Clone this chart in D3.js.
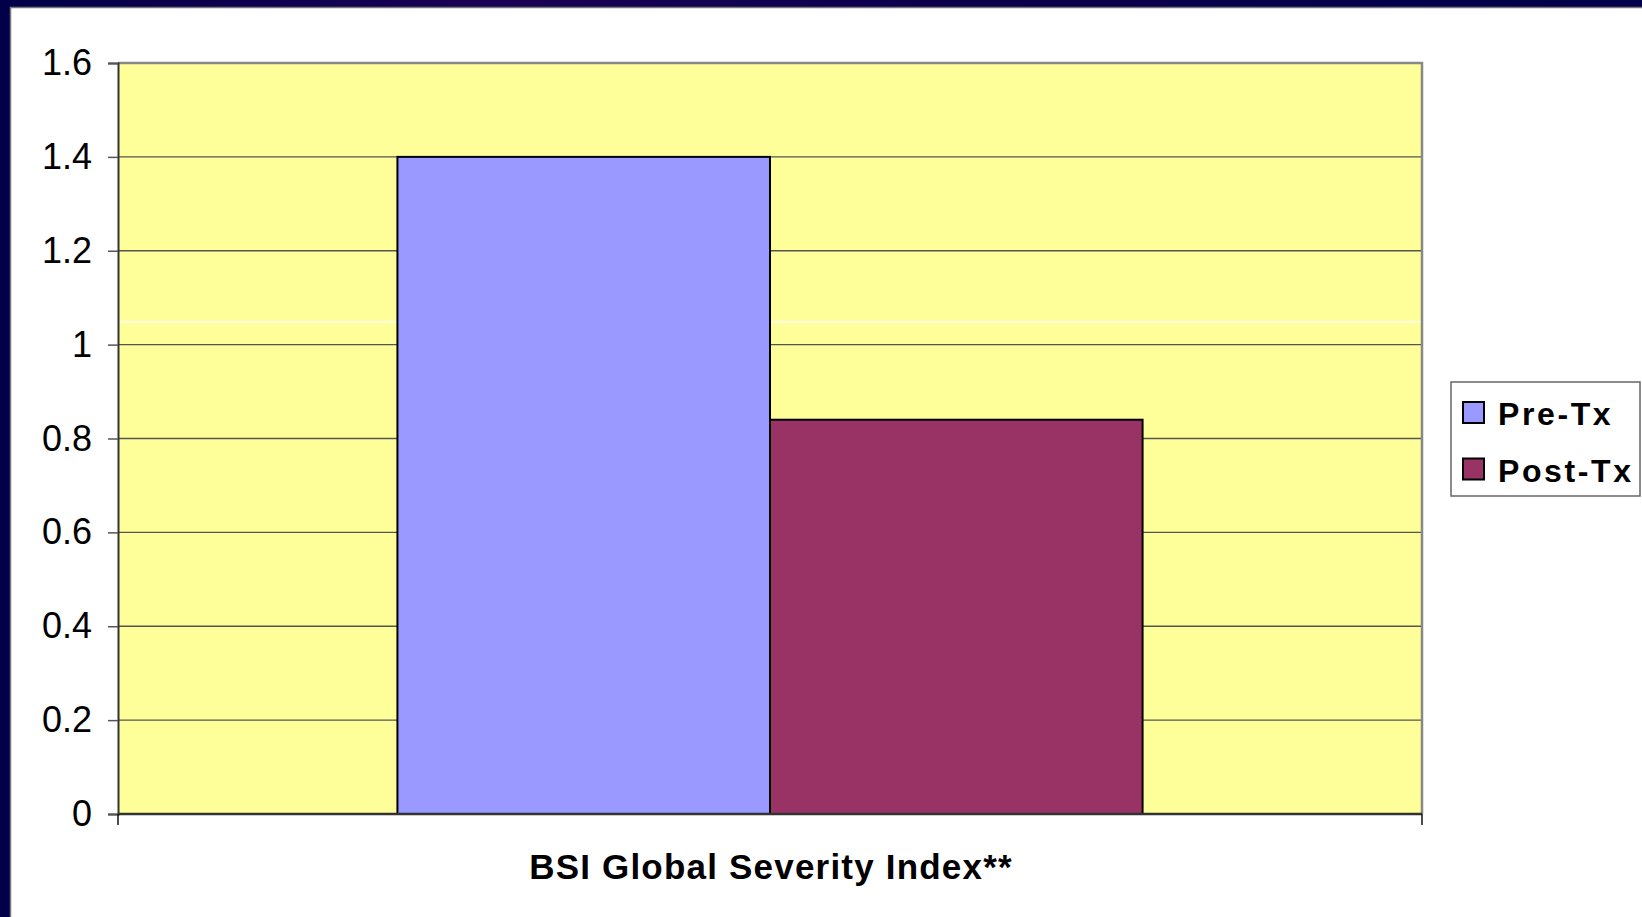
<!DOCTYPE html>
<html>
<head>
<meta charset="utf-8">
<script src="https://cdn.jsdelivr.net/npm/d3@7"></script>
<style>
  html, body { margin: 0; padding: 0; background: #fff; }
  svg { display: block; }
</style>
</head>
<body>
<div id="chart"></div>
<script>
// chart data
var categories = ["BSI Global Severity Index**"];
var seriesNames = ["Pre-Tx", "Post-Tx"];
var seriesValues = [1.4, 0.84];
var seriesColors = ["#9999FF", "#993366"];
var yTicks = [0, 0.2, 0.4, 0.6, 0.8, 1, 1.2, 1.4, 1.6];

var W = 1642, H = 917;
var plot = {left: 118, top: 63, right: 1422, bottom: 814};

var svg = d3.select("#chart")
  .append("svg")
  .attr("width", W)
  .attr("height", H);

// slide background (dark navy frame)
var grad = svg.append("defs").append("linearGradient")
  .attr("id", "frame")
  .attr("x1", "0").attr("y1", "0").attr("x2", "1").attr("y2", "0");
grad.append("stop").attr("offset", "0").attr("stop-color", "#020048");
grad.append("stop").attr("offset", "0.3").attr("stop-color", "#1a0054");
grad.append("stop").attr("offset", "0.6").attr("stop-color", "#0a004c");
grad.append("stop").attr("offset", "1").attr("stop-color", "#02004a");

svg.append("rect")
  .attr("width", W).attr("height", H)
  .style("fill", "url(#frame)");

svg.append("rect")
  .attr("x", 10.5).attr("y", 7.5)
  .attr("width", W).attr("height", H)
  .style("fill", "#fff")
  .style("stroke", "#777")
  .style("stroke-width", 1.5);

var y = d3.scaleLinear()
  .domain([0, 1.6])
  .range([plot.bottom, plot.top]);

var xCat = d3.scaleBand()
  .domain(categories)
  .range([plot.left, plot.right])
  .padding(0);

var xSer = d3.scaleBand()
  .domain(seriesNames)
  .range([0, xCat.bandwidth()])
  .paddingInner(0)
  .paddingOuter(0.75);

// plot area
svg.append("rect")
  .attr("x", plot.left).attr("y", plot.top)
  .attr("width", plot.right - plot.left)
  .attr("height", plot.bottom - plot.top)
  .style("fill", "#FFFF99");

// gridlines
svg.append("g")
  .selectAll("line")
  .data(yTicks.filter(function(d) { return d > 0 && d < 1.6; }))
  .enter().append("line")
  .attr("x1", plot.left).attr("x2", plot.right)
  .attr("y1", function(d) { return y(d); })
  .attr("y2", function(d) { return y(d); })
  .style("stroke", "#555")
  .style("stroke-width", 1.3);

// faint white streak seen across the plot
svg.append("line")
  .attr("x1", plot.left).attr("x2", plot.right)
  .attr("y1", 322).attr("y2", 322)
  .style("stroke", "#fff")
  .style("stroke-width", 1.5);

// plot border (top / right)
svg.append("path")
  .attr("d", "M" + plot.left + "," + plot.top + "H" + plot.right + "V" + plot.bottom)
  .style("fill", "none")
  .style("stroke", "#888")
  .style("stroke-width", 2.5);

// bars
var groups = svg.selectAll(".cat")
  .data(categories)
  .enter().append("g")
  .attr("class", "cat")
  .attr("transform", function(d) { return "translate(" + xCat(d) + ",0)"; });

groups.selectAll("rect")
  .data(seriesNames.map(function(s, i) { return {name: s, value: seriesValues[i], color: seriesColors[i]}; }))
  .enter().append("rect")
  .attr("x", function(d) { return xSer(d.name); })
  .attr("y", function(d) { return y(d.value); })
  .attr("width", xSer.bandwidth())
  .attr("height", function(d) { return y(0) - y(d.value); })
  .style("fill", function(d) { return d.color; })
  .style("stroke", "#000")
  .style("stroke-width", 2);

// y axis
var yAxis = svg.append("g")
  .attr("transform", "translate(" + plot.left + ",0)")
  .call(d3.axisLeft(y)
    .tickValues(yTicks)
    .tickSize(10)
    .tickPadding(16)
    .tickFormat(function(d) { return d3.format("~g")(d); }));

yAxis.select(".domain").style("stroke", "#333").style("stroke-width", 2);
yAxis.selectAll(".tick line").style("stroke", "#555").style("stroke-width", 1.5);
yAxis.selectAll("text")
  .style("font-family", "Arial, 'Liberation Sans', sans-serif")
  .style("font-size", "36px")
  .style("fill", "#000");

// x axis
var xAxis = svg.append("g")
  .attr("transform", "translate(0," + plot.bottom + ")")
  .call(d3.axisBottom(xCat).tickSize(0).tickFormat(""));

xAxis.select(".domain").remove();
xAxis.append("line")
  .attr("x1", plot.left).attr("x2", plot.right)
  .style("stroke", "#333").style("stroke-width", 2.5);
xAxis.selectAll(".edge")
  .data([plot.left, plot.right])
  .enter().append("line")
  .attr("class", "edge")
  .attr("x1", function(d) { return d; }).attr("x2", function(d) { return d; })
  .attr("y1", 0).attr("y2", 11)
  .style("stroke", "#111").style("stroke-width", 1.5);

svg.selectAll(".cat-label")
  .data(categories)
  .enter().append("text")
  .attr("class", "cat-label")
  .attr("x", function(d) { return xCat(d) + xCat.bandwidth() / 2 + 1; })
  .attr("y", 879)
  .attr("text-anchor", "middle")
  .style("font-family", "Arial, 'Liberation Sans', sans-serif")
  .style("font-weight", "bold")
  .style("font-size", "35px")
  .style("letter-spacing", "1.2px")
  .text(function(d) { return d; });

// legend
var legend = svg.append("g").attr("transform", "translate(1451,382)");
legend.append("rect")
  .attr("width", 189).attr("height", 114)
  .style("fill", "#fff")
  .style("stroke", "#666")
  .style("stroke-width", 1.5);

var item = legend.selectAll(".legend")
  .data(seriesNames)
  .enter().append("g")
  .attr("class", "legend")
  .attr("transform", function(d, i) { return "translate(12," + (20 + i * 56.5) + ")"; });

item.append("rect")
  .attr("width", 21).attr("height", 21)
  .style("fill", function(d, i) { return seriesColors[i]; })
  .style("stroke", "#000")
  .style("stroke-width", 2);

item.append("text")
  .attr("x", 35)
  .attr("y", 23)
  .style("font-family", "Arial, 'Liberation Sans', sans-serif")
  .style("font-weight", "bold")
  .style("font-size", "32px")
  .style("letter-spacing", "2.6px")
  .text(function(d) { return d; });
</script>
</body>
</html>
